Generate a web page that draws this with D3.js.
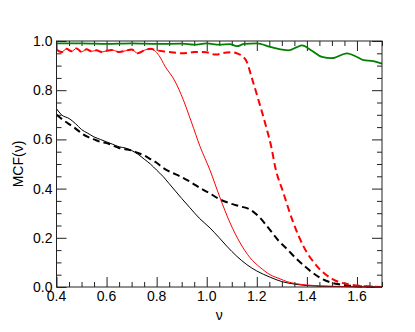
<!DOCTYPE html>
<html>
<head>
<meta charset="utf-8">
<script src="https://cdn.jsdelivr.net/npm/d3@7"></script>
<style>
  body { margin: 0; background: #fff; }
  svg { display: block; font-family: "Liberation Sans", Arial, Helvetica, sans-serif; }
</style>
</head>
<body>
<div id="chart"></div>
<script>
// series as [nu, MCF] pairs
var blackSolid = [
  [0.40,0.725],[0.42,0.70],[0.45,0.685],[0.475,0.665],[0.50,0.64],[0.525,0.625],
  [0.55,0.61],[0.575,0.60],[0.60,0.59],[0.625,0.58],[0.65,0.57],[0.675,0.565],
  [0.70,0.555],[0.725,0.54],[0.75,0.52],[0.775,0.50],[0.80,0.475],[0.825,0.45],
  [0.85,0.42],[0.875,0.39],[0.90,0.36],[0.933,0.322],[0.97,0.28],[1.013,0.24],
  [1.05,0.20],[1.08,0.166],[1.12,0.125],[1.16,0.091],[1.20,0.065],[1.253,0.04],
  [1.30,0.022],[1.35,0.012],[1.40,0.006],[1.50,0.002],[1.60,0.001],[1.70,0.0]
]
var blackDashed = [
  [0.40,0.70],[0.425,0.68],[0.45,0.662],[0.475,0.645],[0.50,0.625],[0.525,0.61],
  [0.55,0.60],[0.575,0.59],[0.60,0.585],[0.625,0.575],[0.65,0.565],[0.675,0.56],
  [0.70,0.555],[0.725,0.545],[0.75,0.535],[0.775,0.52],[0.80,0.505],[0.825,0.485],
  [0.85,0.47],[0.893,0.45],[0.93,0.43],[0.973,0.403],[1.013,0.38],[1.053,0.356],
  [1.093,0.34],[1.133,0.328],[1.173,0.315],[1.213,0.281],[1.25,0.235],[1.287,0.188],
  [1.32,0.155],[1.353,0.12],[1.387,0.088],[1.42,0.06],[1.453,0.037],[1.49,0.02],
  [1.533,0.01],[1.60,0.003],[1.70,0.0]
]
var redSolid = [
  [0.40,0.965],[0.42,0.955],[0.44,0.968],[0.46,0.958],[0.48,0.97],[0.50,0.956],
  [0.52,0.966],[0.54,0.958],[0.56,0.962],[0.58,0.955],[0.60,0.96],[0.625,0.963],
  [0.65,0.955],[0.675,0.96],[0.70,0.965],[0.725,0.95],[0.75,0.962],[0.775,0.968],
  [0.79,0.962],[0.81,0.94],[0.833,0.898],[0.873,0.837],[0.906,0.762],[0.94,0.667],
  [0.973,0.572],[1.013,0.475],[1.053,0.363],[1.093,0.261],[1.133,0.18],
  [1.173,0.119],[1.213,0.08],[1.253,0.05],[1.293,0.033],[1.32,0.022],[1.36,0.013],
  [1.40,0.008],[1.50,0.003],[1.60,0.001],[1.70,0.0]
]
var redDashed = [
  [0.40,0.965],[0.42,0.955],[0.44,0.968],[0.46,0.958],[0.48,0.97],[0.50,0.956],
  [0.52,0.966],[0.54,0.958],[0.56,0.962],[0.58,0.955],[0.60,0.96],[0.625,0.963],
  [0.65,0.955],[0.675,0.96],[0.70,0.965],[0.725,0.95],[0.75,0.962],[0.775,0.968],
  [0.80,0.962],[0.825,0.958],[0.85,0.955],[0.875,0.952],[0.90,0.95],[0.925,0.952],
  [0.95,0.955],[0.975,0.955],[1.00,0.954],[1.02,0.947],[1.04,0.945],[1.06,0.95],
  [1.08,0.953],[1.10,0.955],[1.12,0.95],[1.14,0.94],[1.16,0.915],[1.18,0.85],
  [1.206,0.762],[1.233,0.667],[1.26,0.559],[1.273,0.49],[1.306,0.383],[1.346,0.261],
  [1.386,0.166],[1.44,0.085],[1.506,0.03],[1.573,0.01],[1.65,0.002],[1.70,0.0]
]
var green = [
  [0.40,0.99],[0.50,0.99],[0.60,0.988],[0.70,0.99],[0.80,0.988],[0.90,0.989],
  [0.95,0.985],[1.00,0.99],[1.05,0.985],[1.093,0.987],[1.12,0.979],[1.15,0.988],
  [1.20,0.99],[1.253,0.976],[1.30,0.965],[1.327,0.962],[1.36,0.975],[1.38,0.982],
  [1.42,0.96],[1.46,0.935],[1.50,0.93],[1.56,0.95],[1.60,0.935],[1.626,0.922],
  [1.666,0.918],[1.70,0.908]
]

var xMajor = [0.4,0.6,0.8,1.0,1.2,1.4,1.6]
var yMajor = [0.0,0.2,0.4,0.6,0.8,1.0]
var xLabel = 'ν'
var yLabel = 'MCF(ν)'

var W = 415, H = 332
var m = {left: 56.5, right: 33, top: 41, bottom: 45}

var svg = d3.select('#chart').append('svg')
  .attr('width', W)
  .attr('height', H)

var x = d3.scaleLinear().domain([0.4,1.7]).range([m.left, W-m.right])
var y = d3.scaleLinear().domain([0,1]).range([H-m.bottom, m.top])

// minor ticks every 0.05
var xMinor = d3.range(0.45, 1.7001, 0.05).filter(function(v){
  return xMajor.every(function(t){ return Math.abs(t-v) > 1e-6 })
})
var yMinor = d3.range(0.05, 1.0, 0.05).filter(function(v){
  return yMajor.every(function(t){ return Math.abs(t-v) > 1e-6 })
})

function tickGroup(axisFn, scale, vals, size, tr){
  var g = svg.append('g').attr('transform', tr)
    .call(axisFn(scale).tickValues(vals).tickSize(size).tickFormat(''))
  g.select('.domain').remove()
  g.selectAll('line').attr('stroke', '#222')
  return g
}

var bot = 'translate(0,' + (H-m.bottom) + ')'
var top_ = 'translate(0,' + m.top + ')'
var lft = 'translate(' + m.left + ',0)'
var rgt = 'translate(' + (W-m.right) + ',0)'

tickGroup(d3.axisBottom, x, xMajor, -10, bot)
tickGroup(d3.axisBottom, x, xMinor, -5, bot)
tickGroup(d3.axisTop, x, xMajor, -10, top_)
tickGroup(d3.axisTop, x, xMinor, -5, top_)
tickGroup(d3.axisLeft, y, yMajor, -10, lft)
tickGroup(d3.axisLeft, y, yMinor, -5, lft)
tickGroup(d3.axisRight, y, yMajor, -10, rgt)
tickGroup(d3.axisRight, y, yMinor, -5, rgt)

// tick labels
svg.append('g').selectAll('text').data(xMajor).enter().append('text')
  .attr('x', function(d){ return x(d) })
  .attr('y', H-m.bottom+14)
  .attr('text-anchor', 'middle')
  .style('font-size', '14px')
  .text(function(d){ return d3.format('.1f')(d) })

svg.append('g').selectAll('text').data(yMajor).enter().append('text')
  .attr('x', m.left-4)
  .attr('y', function(d){ return y(d)+5 })
  .attr('text-anchor', 'end')
  .style('font-size', '14px')
  .text(function(d){ return d3.format('.1f')(d) })

svg.append('text')
  .attr('x', (x.range()[0]+x.range()[1])/2)
  .attr('y', H-12)
  .attr('text-anchor', 'middle')
  .style('font-size', '14px')
  .text(xLabel)

svg.append('text')
  .attr('transform', 'translate(23,' + ((y.range()[0]+y.range()[1])/2) + ') rotate(-90)')
  .attr('text-anchor', 'middle')
  .style('font-size', '14px')
  .text(yLabel)

var line = d3.line()
  .x(function(d){ return x(d[0]) })
  .y(function(d){ return y(d[1]) })
  .curve(d3.curveMonotoneX)

var plot = svg.append('g')
function draw(data, color, width, dash){
  plot.append('path')
    .datum(data)
    .attr('d', line)
    .attr('fill', 'none')
    .attr('stroke', color)
    .attr('stroke-width', width)
    .attr('stroke-dasharray', dash || null)
}

draw(blackSolid, '#000', 1)
draw(blackDashed, '#000', 2, '7,4')
draw(redSolid, '#ff0000', 1)
draw(redDashed, '#ff0000', 2, '7,4')
draw(green, '#008000', 1.8)

// frame
svg.append('rect')
  .attr('x', m.left).attr('y', m.top)
  .attr('width', W-m.left-m.right).attr('height', H-m.top-m.bottom)
  .attr('fill', 'none').attr('stroke', '#222').attr('stroke-width', 1)
</script>
</body>
</html>
